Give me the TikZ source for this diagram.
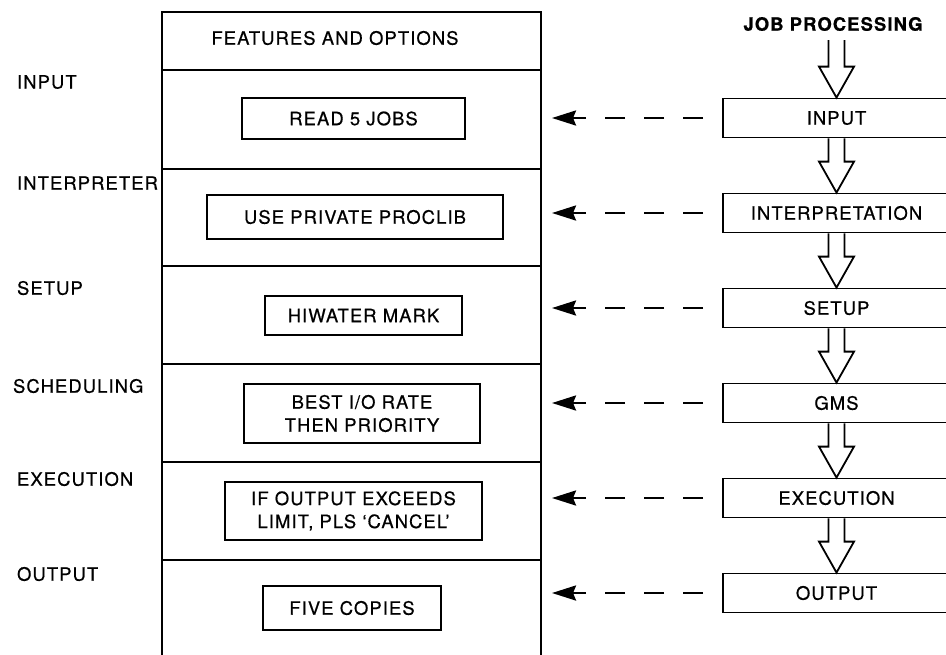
\documentclass[tikz,border=0pt]{standalone}
\usepackage{fontspec}
\setmainfont{TeX Gyre Heros}[LetterSpace=6, FakeBold=0.6]
\usetikzlibrary{arrows.meta,calc}
\newcommand{\figtext}{\fontsize{9.2}{11.5}\selectfont}
\newcommand{\blockarrow}[2]{%
  \draw[hollow] ($(#1)+(-8,0)$) -- ($(#2)+(-8,-31)$) -- ($(#2)+(-17.5,-31)$)
    -- (#2) -- ($(#2)+(17.5,-31)$) -- ($(#2)+(8,-31)$) -- ($(#1)+(8,0)$);}
\tikzset{
  >={Stealth[length=12pt,width=7.5pt,inset=1.5pt]},
  feat/.style  ={rectangle, draw, line width=0.9pt, inner sep=0pt,
                 font=\figtext, align=center},
  stage/.style ={rectangle, draw, line width=0.9pt, inner sep=0pt,
                 minimum width=113.5pt, minimum height=19.5pt, font=\figtext},
  side/.style  ={anchor=west, font=\figtext},
  frame/.style ={line width=1pt},
  hollow/.style={draw, line width=0.9pt, line join=miter},
  feed/.style  ={->, line width=1.3pt, dash pattern=on 10pt off 9.5pt,
                 dash phase=10pt, shorten >=5.5pt},
}

\begin{document}
\begin{tikzpicture}[x=0.5pt, y=-0.5pt]
\useasboundingbox (0,0) rectangle (946,654);

% --- features table -------------------------------------------------
\draw[frame] (162,12) rectangle (541,680);
\foreach \y in {70,169,266,364,462,560}
  \draw[frame] (162,\y) -- (541,\y);
\coordinate (frR) at (541,0);
\node[font=\figtext] (head) at (335,38) {FEATURES AND OPTIONS};

\node[feat, minimum width=111.5pt, minimum height=20.5pt] (fin)  at (353.5,118.5) {READ 5 JOBS};
\node[feat, minimum width=148pt,   minimum height=22pt]   (fint) at (355,217)     {USE PRIVATE PROCLIB};
\node[feat, minimum width=98.5pt,  minimum height=19.5pt] (fset) at (363.5,315.5) {HIWATER MARK};
\node[feat, minimum width=118pt,   minimum height=29.5pt] (fsch) at (362,413.5)   {BEST I/O RATE\\THEN PRIORITY};
\node[feat, minimum width=128.5pt, minimum height=29pt]   (fexe) at (353.5,511)   {IF OUTPUT EXCEEDS\\LIMIT, PLS `CANCEL'};
\node[feat, minimum width=89pt,    minimum height=22pt]   (fout) at (352,608)     {FIVE COPIES};

% --- row names --------------------------------------------------------
\node[side] (lin)  at (10,82)  {INPUT};
\node[side] (lint) at (10,183) {INTERPRETER};
\node[side] (lset) at (10,288) {SETUP};
\node[side] (lsch) at (6,386)  {SCHEDULING};
\node[side] (lexe) at (10,479) {EXECUTION};
\node[side] (lout) at (10,574) {OUTPUT};

% --- job processing column ------------------------------------------
\node[font=\figtext\bfseries] (jp) at (833,24) {JOB PROCESSING};
\coordinate (jtop) at (836.5,40);
\node[stage] (jin)  at (836.5,118) {INPUT};
\node[stage] (jint) at (836.5,213) {INTERPRETATION};
\node[stage] (jset) at (836.5,308) {SETUP};
\node[stage] (jgms) at (836.5,403) {GMS};
\node[stage] (jexe) at (836.5,498) {EXECUTION};
\node[stage] (jout) at (836.5,593) {OUTPUT};

\blockarrow{jtop}{jin.north}
\foreach \a/\b in {jin/jint,jint/jset,jset/jgms,jgms/jexe,jexe/jout}{
  \blockarrow{\a.south}{\b.north}}

% --- links back to the table ----------------------------------------
\foreach \s in {jin,jint,jset,jgms,jexe,jout}
  \draw[feed] (\s.west) -- (\s.west -| frR);
\end{tikzpicture}
\end{document}
